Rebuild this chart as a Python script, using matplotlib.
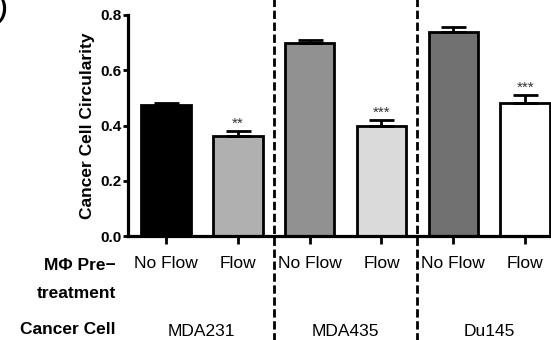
import matplotlib
matplotlib.use("Agg")
import matplotlib.pyplot as plt

plt.rcParams['font.family'] = ['Liberation Sans', 'DejaVu Sans']

# data
conditions = ['No Flow', 'Flow', 'No Flow', 'Flow', 'No Flow', 'Flow']
cells = ['MDA231', 'MDA435', 'Du145']
circularity = [0.474, 0.363, 0.698, 0.398, 0.737, 0.483]
sem = [0.007, 0.017, 0.011, 0.022, 0.021, 0.027]
stars = ['', '**', '', '***', '', '***']
bar_colors = ['#000000', '#b0b0b0', '#919191', '#dadada', '#717171', '#ffffff']

fig = plt.figure(figsize=(5.51, 3.40), dpi=100)
ax = fig.add_axes([128 / 551, 104 / 340, 423 / 551, 221 / 340])

x = list(range(len(circularity)))
ax.bar(x, circularity, width=0.69, color=bar_colors, edgecolor='black',
       linewidth=2.0, zorder=2)
ax.errorbar(x, circularity, yerr=[[0] * len(sem), sem], fmt='none',
            ecolor='black', elinewidth=2.0, capsize=9, capthick=2.0, zorder=3)

for xi, v, e, s in zip(x, circularity, sem, stars):
    if s:
        ax.text(xi, v + e + 0.002, s, ha='center', va='bottom', fontsize=11,
                color='#333333')

ax.set_xlim(-0.528, 5.36)
ax.set_ylim(0, 0.8)
ax.set_yticks([0.0, 0.2, 0.4, 0.6, 0.8])
ax.set_yticklabels(['0.0', '0.2', '0.4', '0.6', '0.8'], fontweight='bold',
                   fontsize=11)
ax.set_xticks(x)
ax.set_xticklabels(conditions, fontsize=12.5)
ax.set_ylabel('Cancer Cell Circularity', fontweight='bold', fontsize=12.5,
              labelpad=4)

for side in ['top', 'right']:
    ax.spines[side].set_visible(False)
for side in ['left', 'bottom']:
    ax.spines[side].set_linewidth(2.3)
ax.tick_params(axis='y', length=3.6, width=2.0, pad=1)
ax.tick_params(axis='x', length=5.5, width=2.0, pad=9)

# dashed group separators running the full height of the figure
for sep in [1.5, 3.5]:
    ax.plot([sep, sep], [-0.48, 1.08], transform=ax.get_xaxis_transform(),
            color='black', linestyle=(0, (3, 1.3)), linewidth=2.0,
            clip_on=False, zorder=4)

# row labels below the axis
fig.text(116 / 551, 1 - 266 / 340, 'M\u03a6 Pre\u2212', ha='right', va='center',
         fontsize=12.5, fontweight='bold')
fig.text(116 / 551, 1 - 293 / 340, 'treatment', ha='right', va='center',
         fontsize=12.5, fontweight='bold')
fig.text(116 / 551, 1 - 330 / 340, 'Cancer Cell', ha='right', va='center',
         fontsize=12.5, fontweight='bold')
for i, name in enumerate(cells):
    ax.text(2 * i + 0.5, -0.43, name, transform=ax.get_xaxis_transform(),
            ha='center', va='center', fontsize=12.5)

# remnant of the panel letter at the top-left corner
fig.text(-0.004, 1.0, ')', ha='left', va='top', fontsize=17,
         fontweight='bold', fontstyle='italic')

fig.savefig('out.png', dpi=100)
